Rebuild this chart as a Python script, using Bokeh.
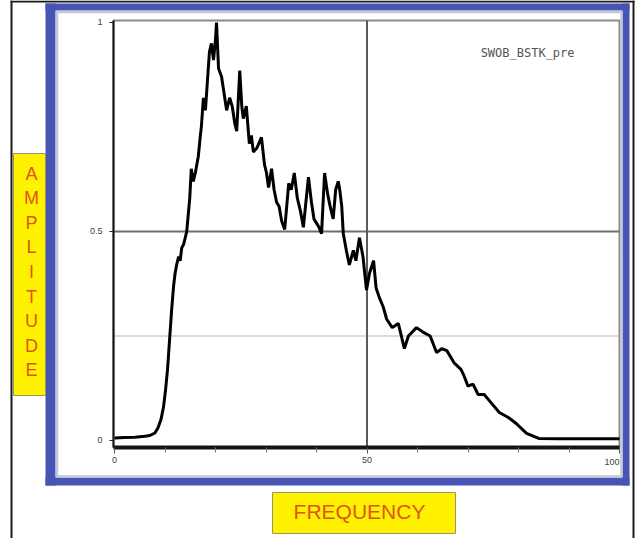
from bokeh.plotting import figure
from bokeh.models import Range1d, FixedTicker, BoxAnnotation, Label, LinearAxis
from bokeh.core.properties import value
from bokeh.embed import file_html
from bokeh.resources import INLINE

# ---------------- data ----------------
freq = [0, 2, 4, 6, 7, 8, 8.6, 9.2, 9.7, 10.1, 10.5, 10.9, 11.3, 11.7, 12.0, 12.3,
        12.7, 13.0, 13.3, 13.7, 14.3, 14.9, 15.2, 15.6, 16.0, 16.6, 17.0, 17.2, 17.6,
        18.0, 18.4, 18.8, 19.2, 19.6, 20.0, 20.2, 20.6, 21.2, 21.7, 22.2, 22.8, 23.3,
        23.8, 24.2, 24.8, 25.2, 25.5, 26.1, 26.7, 27.1, 27.5, 28.2, 29.1, 29.7, 30.1,
        30.5, 31.1, 31.6, 32.1, 32.6, 33.1, 33.7, 34.5, 35.0, 35.6, 36.2, 36.8, 37.4,
        37.9, 38.4, 39.0, 39.5, 40.0, 40.5, 41.0, 41.6, 42.2, 42.7, 43.3, 43.8, 44.3,
        44.6, 45.0, 45.3, 45.9, 46.5, 47.3, 47.8, 48.5, 49.2, 49.9, 50.5, 51.3, 51.8,
        52.5, 53.2, 53.9, 55.0, 56.2, 57.4, 58.2, 59.8, 61.0, 62.5, 63.8, 64.8, 65.8,
        67.3, 68.6, 69.2, 70.0, 71.0, 72.0, 73.2, 74.6, 76.2, 78.0, 79.6, 81.6, 84.0,
        88, 92, 96, 100]
amplitude = [0.006, 0.007, 0.008, 0.010, 0.012, 0.018, 0.03, 0.05, 0.08, 0.12, 0.17,
             0.24, 0.31, 0.37, 0.40, 0.42, 0.44, 0.43, 0.46, 0.47, 0.50, 0.58, 0.65,
             0.62, 0.64, 0.68, 0.73, 0.75, 0.82, 0.79, 0.86, 0.93, 0.95, 0.91, 0.96,
             1.0, 0.89, 0.87, 0.83, 0.79, 0.82, 0.80, 0.76, 0.74, 0.885, 0.80, 0.77,
             0.80, 0.71, 0.73, 0.69, 0.70, 0.725, 0.66, 0.64, 0.605, 0.65, 0.60, 0.57,
             0.56, 0.525, 0.505, 0.615, 0.60, 0.64, 0.58, 0.55, 0.51, 0.57, 0.63, 0.57,
             0.53, 0.52, 0.51, 0.495, 0.64, 0.59, 0.56, 0.53, 0.60, 0.62, 0.60, 0.56,
             0.495, 0.455, 0.42, 0.455, 0.43, 0.485, 0.44, 0.36, 0.40, 0.43, 0.365,
             0.34, 0.32, 0.29, 0.27, 0.28, 0.22, 0.25, 0.27, 0.26, 0.25, 0.21, 0.22,
             0.215, 0.185, 0.17, 0.155, 0.13, 0.135, 0.11, 0.11, 0.09, 0.067, 0.055,
             0.04, 0.017, 0.005, 0.004, 0.004, 0.004, 0.004]

x_major_ticks = [0, 50, 100]
x_minor_ticks = [10, 20, 30, 40, 60, 70, 80, 90]
x_tick_labels = ["0", "50", "100"]
y_ticks = [0, 0.5, 1]
y_tick_labels = ["0", "0.5", "1"]
h_guides = [0.5, 0.25]
h_guide_colors = ["#6e6e6e", "#d9a3ab"]
v_guides = [50]
trace_name = "SWOB_BSTK_pre"
x_title = "FREQUENCY"
y_title = "AMPLITUDE"

# ---------------- layout: the frame covers the whole canvas ----------------
W, H = 636, 538
# chart box (pixels) and its data extent
CL, CR, CT, CB = 113, 619, 20, 447
XL, XR = -0.2, 100.0                 # data x at CL / CR
YB, YT = -0.01675, 1.00478           # data y at CB / CT
kx = (CR - CL) / (XR - XL)
ky = (CB - CT) / (YT - YB)

p = figure(width=W, height=H, output_backend="svg", toolbar_location=None,
           x_range=Range1d(XL - CL / kx, XL + (W - CL) / kx),
           y_range=Range1d(YB - (H - CB) / ky, YB + CB / ky),
           title=None, x_axis_location=None, y_axis_location=None,
           min_border=0)
p.background_fill_color = "white"
p.border_fill_color = "white"
p.outline_line_color = None
p.xgrid.visible = False
p.ygrid.visible = False

# chart box outline (grey top/right edges)
p.add_layout(BoxAnnotation(left=XL, right=XR, bottom=YB, top=YT, fill_alpha=0.0,
                           line_color="#8a8a8a", line_alpha=1.0, line_width=2,
                           level="underlay"))

# guide lines inside the chart box
p.segment(x0=[XL] * len(h_guides), x1=[XR] * len(h_guides), y0=h_guides, y1=h_guides,
          line_color=h_guide_colors, line_width=[2, 1.2])
p.segment(x0=v_guides, x1=v_guides, y0=[YB] * len(v_guides), y1=[YT] * len(v_guides),
          line_color="#5a5a5a", line_width=2)

# axes fixed at the chart box edges
x_labels_main = {t: (lab if t != x_major_ticks[-1] else "")
                 for t, lab in zip(x_major_ticks, x_tick_labels)}
xaxis = LinearAxis(fixed_location=YB, bounds=(XL, XR),
                   ticker=FixedTicker(ticks=x_major_ticks, minor_ticks=x_minor_ticks),
                   major_label_overrides=x_labels_main)
xaxis.major_tick_in = 0
xaxis.major_tick_out = 6
xaxis.minor_tick_in = 0
xaxis.minor_tick_out = 5
xaxis.major_label_text_font_size = "9px"
xaxis.major_label_text_color = "#404040"
xaxis.major_label_standoff = 3
xaxis.axis_line_width = 4
xaxis.axis_line_color = "#151515"
xaxis.major_tick_line_color = "#555555"
xaxis.minor_tick_line_color = "#777777"
p.add_layout(xaxis, "below")

# last x tick label sits flush with the right edge of the chart box
p.add_layout(Label(x=x_major_ticks[-1], y=H - 461, x_units="data", y_units="screen",
                   text=x_tick_labels[-1], text_font_size="9px", text_color="#404040",
                   text_align="right", text_baseline="middle"))

yaxis = LinearAxis(fixed_location=XL, bounds=(YB, YT),
                   ticker=FixedTicker(ticks=y_ticks, minor_ticks=[]),
                   major_label_overrides=dict(zip(y_ticks, y_tick_labels)))
yaxis.axis_line_width = 2
yaxis.axis_line_color = "#151515"
yaxis.major_tick_in = 0
yaxis.major_tick_out = 4
yaxis.minor_tick_out = 0
yaxis.major_tick_line_color = "#222222"
yaxis.major_label_text_font_size = "9px"
yaxis.major_label_text_color = "#404040"
yaxis.major_label_standoff = 7
p.add_layout(yaxis, "left")

# curve
p.line(freq, amplitude, line_color="black", line_width=3)
p.text(x=[72.5], y=[0.928], text=[trace_name], text_font=value("DejaVu Sans Mono"),
       text_font_size="12px", text_color="#555555", text_baseline="middle",
       text_align="left")


# ---------------- decorations (canvas pixels, screen units) ----------------
def rect(cx0, cy0, cx1, cy1, fill="white", fill_alpha=1.0, line=None, lw=1):
    p.add_layout(BoxAnnotation(left=cx0, right=cx1, top=H - cy0, bottom=H - cy1,
                               left_units="screen", right_units="screen",
                               top_units="screen", bottom_units="screen",
                               fill_color=fill, fill_alpha=fill_alpha,
                               line_color=line, line_alpha=1.0 if line else 0.0,
                               line_width=lw))


BLUE = "#4655b4"
YELLOW = "#fff200"
rect(10, 0, 12, H, fill="#1a1a1a")                          # page edge (left)
rect(10, 0, 634, 2, fill="#1a1a1a")                         # page edge (top)
rect(632, 0, 634, H, fill="#1a1a1a")                        # page edge (right)
rect(45, 3, 55, 485, fill=BLUE)                             # left band
rect(45, 3, 629, 10, fill=BLUE)                             # top band
rect(622, 3, 629, 485, fill=BLUE)                           # right band
rect(45, 477, 629, 485, fill=BLUE)                          # bottom band
rect(56.5, 11.5, 621, 476, fill_alpha=0.0, line="#c3c7d6", lw=2.5)

rect(13, 153, 45, 395, fill=YELLOW, line="#9a9460", lw=1)
rect(272, 492, 455, 533, fill=YELLOW, line="#9a9460", lw=1)

p.add_layout(Label(x=31, y=H - 271.5, x_units="screen", y_units="screen",
                   text="\n".join(y_title),
                   text_font="Liberation Sans", text_font_size="18px",
                   text_color="#dd5418", text_align="center", text_baseline="middle",
                   text_line_height=1.227))
p.add_layout(Label(x=359, y=H - 511, x_units="screen", y_units="screen", text=x_title,
                   text_font="Liberation Sans", text_font_size="21px",
                   text_color="#dd5418", text_align="center", text_baseline="middle"))

open("out.html", "w").write(file_html(p, INLINE))
